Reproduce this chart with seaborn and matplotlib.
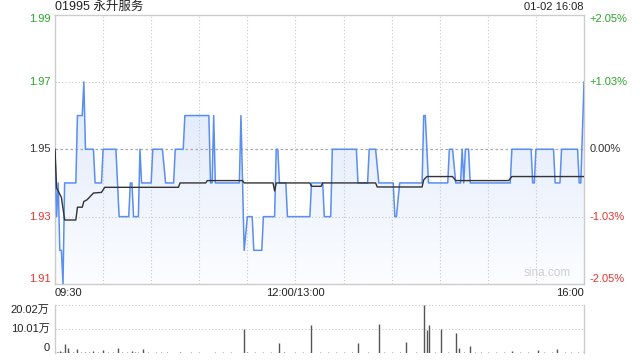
import numpy as np
import matplotlib
matplotlib.use('Agg')
import matplotlib.pyplot as plt
import seaborn as sns
from matplotlib.patches import Polygon
from matplotlib.colors import LinearSegmentedColormap

# ---------------- data ----------------
title = '01995 永升服务'
stamp = '01-02 16:08'

price_minute = [0, 1, 2, 3, 4, 5, 6, 13, 14, 17, 18, 19, 24, 25, 29, 30, 38, 40, 46, 47, 48, 49, 52,
                53, 54, 60, 61, 67, 69, 74, 75, 80, 81, 96, 97, 98, 99, 100, 115, 116, 118, 120,
                123, 124, 129, 130, 137, 138, 139, 140, 144, 145, 159, 160, 167, 168, 172, 173,
                188, 189, 195, 196, 200, 202, 211, 212, 213, 215, 229, 230, 231, 233, 245, 246,
                248, 250, 253, 254, 255, 256, 258, 259, 284, 285, 297, 298, 299, 300, 311, 312,
                315, 316, 326, 327, 328, 330]
price_value = [1.95, 1.93, 1.94, 1.92, 1.92, 1.91, 1.94, 1.94, 1.96, 1.96, 1.97, 1.95, 1.95, 1.94,
               1.94, 1.95, 1.95, 1.93, 1.93, 1.94, 1.94, 1.93, 1.93,
               1.95, 1.94, 1.94, 1.95, 1.95, 1.94, 1.94, 1.95, 1.95, 1.96, 1.96, 1.94, 1.94, 1.96,
               1.94, 1.94, 1.96, 1.92, 1.93,
               1.93, 1.92, 1.92, 1.93, 1.93, 1.95, 1.95, 1.94, 1.94, 1.93, 1.93, 1.94, 1.94, 1.93,
               1.93, 1.95,
               1.95, 1.94, 1.94, 1.95, 1.95, 1.94, 1.94, 1.93, 1.93, 1.94, 1.94, 1.96, 1.96, 1.94,
               1.94, 1.95,
               1.95, 1.94, 1.94, 1.95, 1.94, 1.95, 1.95, 1.94, 1.94, 1.95, 1.95, 1.94, 1.94, 1.95,
               1.95, 1.94,
               1.94, 1.95, 1.95, 1.94, 1.94, 1.97]

avg_minute = [0, 1, 4, 6, 13, 14, 17, 18, 20, 22, 24, 29, 31, 77, 78, 94, 95, 117, 118, 136, 137,
              138, 159, 160, 166, 167, 200, 201, 229, 230, 232, 248, 250, 283, 285, 330]
avg_value = [1.95, 1.9385, 1.9357, 1.929, 1.929, 1.9328, 1.9328, 1.9345, 1.9350, 1.936, 1.937,
             1.9372, 1.9387, 1.9387, 1.94, 1.94, 1.9407, 1.9407, 1.94, 1.94, 1.9376,
             1.94, 1.94, 1.939, 1.939, 1.94, 1.94, 1.9388, 1.9388, 1.9409, 1.9419, 1.9419,
             1.9407, 1.9407, 1.9419, 1.9419]

vol_minute = [1, 3, 4, 6, 8, 14, 19, 24, 30, 39, 48, 50, 55, 78, 118, 120, 140, 143, 160, 189,
              202, 219, 230, 232, 233, 241, 250, 252, 259, 285, 301, 313, 330]
vol_value = [0.6, 0.9, 0.5, 3.9, 2.0, 1.5, 0.6, 0.8, 1.3, 2.2, 0.9, 0.6, 1.5, 0.6, 9.9, 0.6, 4.3,
             0.6, 11.7, 4.3, 12.1, 4.7, 20.02, 9.6, 11.7, 9.9, 8.5, 2.0, 2.9, 0.9, 1.2, 1.6, 0.8]
tiny_minute = [0, 2, 5, 9, 11, 16, 21, 27, 33, 36, 42, 45, 52, 58, 63, 66, 70, 85, 90, 100, 105,
               110, 125, 130, 135, 150, 155, 165, 170, 175, 180, 185, 195, 205, 210, 215, 225,
               237, 245, 255, 262, 266, 270, 275, 280, 290, 295, 305, 310, 318, 322, 326]
tiny_value = [0.4, 0.3, 0.5, 0.3, 0.4, 0.3, 0.3, 0.4, 0.3, 0.5, 0.3, 0.4, 0.3, 0.3, 0.4, 0.3, 0.3,
              0.4, 0.3, 0.3, 0.4, 0.3, 0.3, 0.4, 0.3, 0.3, 0.3, 0.4, 0.3, 0.3, 0.4, 0.3, 0.3,
              0.4, 0.3, 0.3, 0.4, 0.3, 0.3, 0.4, 0.3, 0.5, 0.3, 0.4, 0.3, 0.3, 0.4, 0.3, 0.3,
              0.4, 0.3, 0.3]

left_ticks = [1.99, 1.97, 1.95, 1.93, 1.91]
left_labels = ['1.99', '1.97', '1.95', '1.93', '1.91']
right_labels = ['+2.05%', '+1.03%', '0.00%', '-1.03%', '-2.05%']
tick_colors = ['#2aa52a', '#2aa52a', '#333333', '#e8332e', '#e8332e']
vol_ticks = [20.02, 10.01, 0]
vol_labels = ['20.02万', '10.01万', '0']
x_ticks = [0, 150, 330]
x_labels = ['09:30', '12:00/13:00', '16:00']

# ---------------- style ----------------
sns.set_theme(style='white')
plt.rcParams['font.family'] = ['Liberation Sans', 'Noto Sans CJK SC', 'DejaVu Sans']

W, H = 640, 360
fig = plt.figure(figsize=(6.4, 3.6), dpi=100)
L, R = 55, 584
ax = fig.add_axes([L / W, 1 - 284 / H, (R - L) / W, (284 - 14.5) / H])
axv = fig.add_axes([L / W, 1 - 353 / H, (R - L) / W, 48 / H])

# ---------------- price panel ----------------
ax.set_xlim(0, 330)
ax.set_ylim(1.91, 1.99)

cmap = LinearSegmentedColormap.from_list('g', ['#fcfdff', '#d5e3fa'])
grad = np.linspace(0, 1, 256).reshape(-1, 1)
im = ax.imshow(grad, extent=[0, 330, 1.91, 1.99], origin='lower', aspect='auto',
               cmap=cmap, zorder=1, interpolation='bilinear')
verts = list(zip(price_minute, price_value)) + [(330, 1.91), (0, 1.91)]
poly = Polygon(verts, closed=True, facecolor='none', edgecolor='none', transform=ax.transData)
ax.add_patch(poly)
im.set_clip_path(poly)

for y in [1.97, 1.93]:
    ax.axhline(y, color='#c8c8c8', lw=0.8, ls=(0, (1, 2)), zorder=2)
ax.axhline(1.95, color='#a8a8a8', lw=0.9, ls=(0, (2, 2)), zorder=2)
for m in range(30, 330, 30):
    ax.axvline(m, color='#c8c8c8', lw=0.8, ls=(0, (1, 2)), zorder=2)

sns.lineplot(x=price_minute, y=price_value, ax=ax, color='#5a8ef0', lw=1.1,
             estimator=None, sort=False, zorder=4)
sns.lineplot(x=avg_minute, y=avg_value, ax=ax, color='#333333', lw=1.0,
             estimator=None, sort=False, zorder=5)

ax.set_xticks([])
ax.set_yticks([])
ax.set_xlabel('')
ax.set_ylabel('')
for s in ax.spines.values():
    s.set_color('#cccccc')
    s.set_linewidth(1.0)

ytr = ax.get_yaxis_transform()
for i, (t, lab, rl, c) in enumerate(zip(left_ticks, left_labels, right_labels, tick_colors)):
    va = 'top' if i == 0 else ('bottom' if i == len(left_ticks) - 1 else 'center')
    ax.text(-0.008, t, lab, transform=ytr, ha='right', va=va, fontsize=8, color=c)
    ax.text(1.011, t, rl, transform=ytr, ha='left', va=va, fontsize=8, color=c)

xtr = ax.get_xaxis_transform()
for xt, lab, ha in zip(x_ticks, x_labels, ['left', 'center', 'right']):
    ax.text(xt, -0.033, lab, transform=xtr, ha=ha, va='center', fontsize=8, color='#222222')

ax.text(0.93, 0.018, 'sina.com', transform=ax.transAxes, ha='center', va='bottom',
        fontsize=8.5, color='#cfcfcf', zorder=6)

fig.text(L / W, 1 - 7 / H, title, ha='left', va='center', fontsize=9, color='#222222')
fig.text(R / W, 1 - 7 / H, stamp, ha='right', va='center', fontsize=8, color='#222222')

# ---------------- volume panel ----------------
axv.set_xlim(0, 330)
axv.set_ylim(0, 20.02)
axv.axhline(10.01, color='#c8c8c8', lw=0.8, ls=(0, (1, 2)))
axv.axhline(20.02, color='#c8c8c8', lw=0.8, ls=(0, (1, 2)), clip_on=False)
axv.vlines(tiny_minute, 0, tiny_value, color='#777777', lw=0.8)
axv.vlines(vol_minute, 0, vol_value, color='#555555', lw=1.0)
axv.set_xticks([])
axv.set_yticks([])
for k, s in axv.spines.items():
    s.set_color('#cccccc')
    s.set_linewidth(1.0)
axv.spines['top'].set_visible(False)
axv.spines['bottom'].set_visible(False)
ytv = axv.get_yaxis_transform()
for i, (t, lab) in enumerate(zip(vol_ticks, vol_labels)):
    va = 'top' if i == 0 else ('bottom' if i == len(vol_ticks) - 1 else 'center')
    axv.text(-0.01, t, lab, transform=ytv, ha='right', va=va, fontsize=8, color='#222222')

fig.savefig('out.png', dpi=100)
